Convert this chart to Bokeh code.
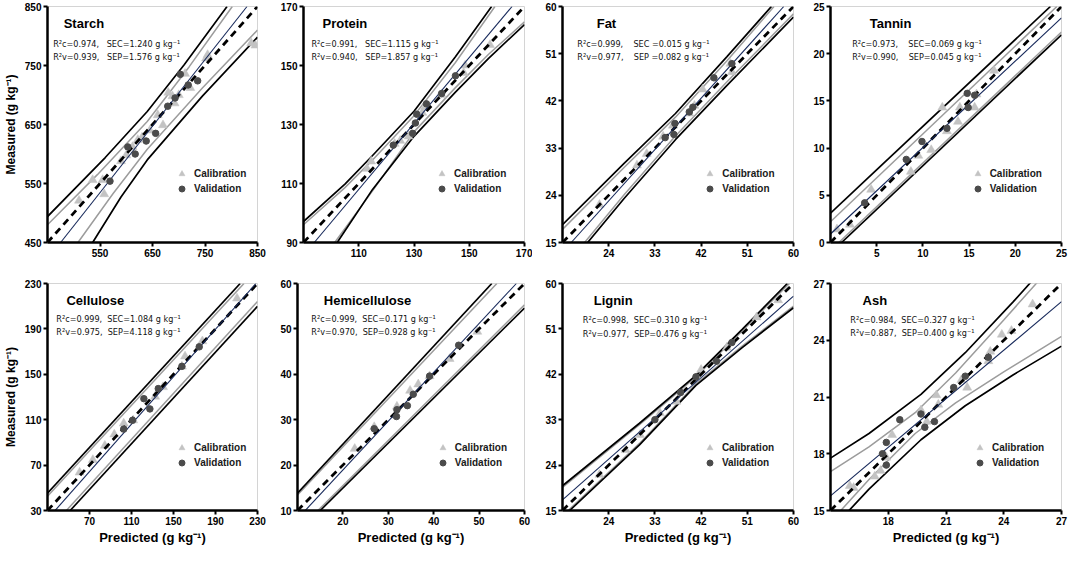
from bokeh.plotting import figure
from bokeh.models import Range1d, FixedTicker, Label, Legend, LegendItem
from bokeh.layouts import column, row
from bokeh.embed import file_html
from bokeh.resources import INLINE

# ---------------- data ----------------
STARCH_RANGE = (450, 850)
STARCH_YTICKS = [450, 550, 650, 750, 850]
STARCH_XTICKS = [550, 650, 750, 850]
STARCH_CAL = [(510, 521), (536, 556), (555, 556), (558, 532), (590, 588), (600, 598), (612, 612),
              (622, 624), (630, 628), (645, 640), (660, 666), (670, 649), (680, 704), (688, 698),
              (692, 686), (700, 700), (712, 736), (722, 712), (752, 762), (755, 768), (838, 788),
              (846, 784)]
STARCH_VAL = [(569, 554), (603, 612), (617, 600), (638, 622), (656, 635), (679, 681), (693, 695),
              (703, 735), (718, 717), (736, 724)]
STARCH_FIT = [(475, 450), (830, 850)]
STARCH_CONF_HI = [(450, 480), (545, 565), (640, 655), (720, 748), (802, 850)]
STARCH_CONF_LO = [(508, 450), (575, 533), (640, 608), (745, 712), (850, 810)]
STARCH_PRED_HI = [(450, 494), (560, 594), (640, 672), (710, 751), (792, 850)]
STARCH_PRED_LO = [(536, 450), (590, 527), (640, 590), (745, 698), (850, 798)]
STARCH_STATS = ["R²c=0.974,\u00a0\u00a0 SEC=1.240 g kg⁻¹", "R²v=0.939,\u00a0\u00a0 SEP=1.576 g kg⁻¹"]

PROTEIN_RANGE = (90, 170)
PROTEIN_YTICKS = [90, 110, 130, 150, 170]
PROTEIN_XTICKS = [110, 130, 150, 170]
PROTEIN_CAL = [(113, 115), (114.5, 117.5), (123, 123.5), (125, 124.5), (128, 126), (133, 134),
               (134, 136), (140, 140), (148, 147.5), (148.5, 150), (157.5, 157)]
PROTEIN_VAL = [(122.5, 123), (129.5, 127), (130.5, 130.5), (131, 133.5), (134.5, 137), (140, 140.5),
               (145, 146.5)]
PROTEIN_FIT = [(93.9, 90), (165.5, 170)]
PROTEIN_CONF_HI = [(90, 96), (105, 108.6), (115, 118), (130, 133), (145, 151), (159.3, 170)]
PROTEIN_CONF_LO = [(101.3, 90), (115, 107.5), (130, 127.5), (145, 142.5), (157, 153.8), (170, 164.8)]
PROTEIN_PRED_HI = [(90, 97.1), (105, 109.8), (115, 119.5), (130, 134.5), (145, 153), (158.1, 170)]
PROTEIN_PRED_LO = [(102.2, 90), (115, 108), (130, 126), (145, 141), (157, 152.4), (170, 163.9)]
PROTEIN_STATS = ["R²c=0.991,\u00a0\u00a0 SEC=1.115 g kg⁻¹", "R²v=0.940,\u00a0\u00a0 SEP=1.857 g kg⁻¹"]

FAT_RANGE = (15, 60)
FAT_YTICKS = [15, 24, 33, 42, 51, 60]
FAT_XTICKS = [24, 33, 42, 51, 60]
FAT_CAL = [(22.2, 22.2), (29.5, 29.7), (31.4, 31.9), (34.6, 35.2), (36.5, 37.3), (39.7, 39.6),
           (40.7, 41.1), (42.3, 44.2), (47.7, 49.1), (48, 47.5)]
FAT_VAL = [(35, 35), (36.7, 35.6), (36.9, 37.7), (39.7, 39.9), (40.4, 40.8), (44.5, 46.4), (48, 49.1)]
FAT_FIT = [(16.7, 15), (58.1, 60)]
FAT_CONF_HI = [(15, 17.5), (27, 29.3), (37, 38.9), (47, 49.6), (56.2, 60)]
FAT_CONF_LO = [(19.3, 15), (27, 24.1), (37, 35.3), (47, 45.6), (60, 58.6)]
FAT_PRED_HI = [(15, 18.4), (27, 30.1), (37, 39.6), (47, 50.4), (55.7, 60)]
FAT_PRED_LO = [(19.9, 15), (27, 23.4), (37, 34.6), (47, 44.9), (60, 58)]
FAT_STATS = ["R²c=0.999,\u00a0\u00a0\u00a0 SEC =0.015 g kg⁻¹", "R²v=0.977,\u00a0\u00a0\u00a0 SEP =0.082 g kg⁻¹"]

TANNIN_RANGE = (0, 25)
TANNIN_YTICKS = [0, 5, 10, 15, 20, 25]
TANNIN_XTICKS = [5, 10, 15, 20, 25]
TANNIN_CAL = [(0.7, 1.4), (2.1, 1.9), (4.4, 5.6), (8.7, 7.5), (9.5, 9.2), (10.9, 9.8), (12.1, 14.3),
              (12.6, 11.8), (13.8, 12.8), (14, 14.3), (15.6, 14.3), (15.8, 15.7), (17.7, 18.2)]
TANNIN_VAL = [(3.7, 4.2), (8.2, 8.8), (9.9, 10.7), (12.6, 12.1), (14.8, 15.8), (14.9, 14.3), (15.6, 15.6)]
TANNIN_FIT = [(0, 0.9), (25, 23.8)]
TANNIN_CONF_HI = [(0, 2.2), (24.5, 25)]
TANNIN_CONF_LO = [(0.9, 0), (25, 22.3)]
TANNIN_PRED_HI = [(0, 3.1), (23.8, 25)]
TANNIN_PRED_LO = [(1.2, 0), (25, 22)]
TANNIN_STATS = ["R²c=0.973,\u00a0\u00a0\u00a0 SEC=0.069 g kg⁻¹", "R²v=0.990,\u00a0\u00a0\u00a0 SEP=0.045 g kg⁻¹"]

CELLULOSE_RANGE = (30, 230)
CELLULOSE_YTICKS = [30, 70, 110, 150, 190, 230]
CELLULOSE_XTICKS = [70, 110, 150, 190, 230]
CELLULOSE_CAL = [(60.6, 63.5), (73.2, 74.6), (84.6, 87.2), (93.6, 97), (102.6, 106.7), (111.6, 109.5),
                 (132.5, 130.4), (140, 138.8), (158, 156.9), (161, 165.8), (177.5, 179.2), (210.5, 216.9)]
CELLULOSE_VAL = [(102.6, 101.7), (111, 109.5), (121.8, 128.5), (127.5, 119.5), (135.5, 137.4),
                 (158, 157), (174.5, 174.2)]
CELLULOSE_FIT = [(37.2, 30), (228.5, 230)]
CELLULOSE_CONF_HI = [(30, 42.6), (217.1, 230)]
CELLULOSE_CONF_LO = [(48, 30), (230, 214.1)]
CELLULOSE_PRED_HI = [(30, 45.3), (213.5, 230)]
CELLULOSE_PRED_LO = [(51.6, 30), (230, 209.9)]
CELLULOSE_STATS = ["R²c=0.999,\u00a0\u00a0SEC=1.084 g kg⁻¹", "R²v=0.975,\u00a0\u00a0SEP=4.118 g kg⁻¹"]

HEMI_RANGE = (10, 60)
HEMI_YTICKS = [10, 20, 30, 40, 50, 60]
HEMI_XTICKS = [20, 30, 40, 50, 60]
HEMI_CAL = [(22.6, 23.6), (26.9, 28.4), (31.9, 32.9), (34.8, 36.4), (36.6, 37.8), (39.1, 39.6),
            (43.5, 43.4), (49.6, 49.4)]
HEMI_VAL = [(26.9, 28), (31.8, 30.7), (31.9, 32.2), (34.2, 33.1), (35.5, 35.6), (39.1, 39.6), (45.5, 46.4)]
HEMI_FIT = [(11.7, 10), (58.2, 60)]
HEMI_CONF_HI = [(10, 13.4), (53.9, 60)]
HEMI_CONF_LO = [(14.5, 10), (60, 55.3)]
HEMI_PRED_HI = [(10, 13.8), (52.8, 60)]
HEMI_PRED_LO = [(15, 10), (60, 54.6)]
HEMI_STATS = ["R²c=0.999,\u00a0\u00a0SEC=0.171 g kg⁻¹", "R²v=0.970,\u00a0\u00a0SEP=0.928 g kg⁻¹"]

LIGNIN_RANGE = (15, 60)
LIGNIN_YTICKS = [15, 24, 33, 42, 51, 60]
LIGNIN_XTICKS = [24, 33, 42, 51, 60]
LIGNIN_CAL = [(22.2, 22.1), (27.3, 27), (30.1, 30), (34, 34.3), (37.2, 36.6), (42, 42.9), (47, 47.3),
              (52.8, 53.3), (57, 56.7)]
LIGNIN_VAL = [(33, 33), (38, 38.4), (41, 41.5), (45, 44.6), (48, 48.3)]
LIGNIN_FIT = [(15, 17.1), (60, 57.5)]
LIGNIN_CONF_HI = [(15, 19.6), (30, 32.0), (41, 41.5), (50, 50.6), (59.2, 60)]
LIGNIN_CONF_LO = [(16.1, 15), (30, 28.3), (41, 40.1), (50, 47.6), (60, 55.5)]
LIGNIN_PRED_HI = [(15, 19.9), (30, 32.3), (41, 41.8), (50, 50.9), (58.8, 60)]
LIGNIN_PRED_LO = [(16.4, 15), (30, 28.0), (41, 39.8), (50, 47.3), (60, 55.2)]
LIGNIN_STATS = ["R²c=0.998,\u00a0\u00a0SEC=0.310 g kg⁻¹", "R²v=0.977,\u00a0\u00a0SEP=0.476 g kg⁻¹"]

ASH_RANGE = (15, 27)
ASH_YTICKS = [15, 18, 21, 24, 27]
ASH_XTICKS = [18, 21, 24, 27]
ASH_CAL = [(16, 16.3), (16.2, 16.2), (17.3, 16.8), (17.6, 17.1), (17.9, 17.8), (18.2, 19), (19.7, 20.3),
           (20, 19.7), (20.6, 20.6), (20.5, 21.1), (21.8, 21.9), (22.1, 21.5), (23.2, 22.9), (23.3, 23.4),
           (23.9, 24.3), (24.4, 24.5), (25.5, 25.9)]
ASH_VAL = [(17.7, 18), (17.9, 18.6), (17.9, 17.4), (18.6, 19.8), (19.7, 20.1), (19.9, 19.4), (20.4, 19.7),
           (21.4, 21.5), (22, 22.1), (23.2, 23.1)]
ASH_FIT = [(15, 15.77), (27, 26.04)]
ASH_CONF_HI = [(15, 17.06), (17, 18.36), (19.4, 20.17), (21.5, 22.27), (24, 25.07), (27, 28.5)]
ASH_CONF_LO = [(15, 14.4), (17, 16.64), (19.4, 19.07), (21.5, 20.69), (24, 22.33), (27, 24.2)]
ASH_PRED_HI = [(15, 17.77), (17, 19.07), (19.7, 21.14), (22, 23.34), (24.5, 26.04), (27, 28.87)]
ASH_PRED_LO = [(15, 13.95), (17, 16.13), (19.7, 18.74), (22, 20.54), (24.5, 22.18), (27, 23.69)]
ASH_STATS = ["R²c=0.984,\u00a0\u00a0SEC=0.327 g kg⁻¹", "R²v=0.887,\u00a0\u00a0SEP=0.400 g kg⁻¹"]

LEGEND_LABELS = ["Calibration", "Validation"]
Y_LABEL = "Measured (g kg⁻¹)"
X_LABEL = "Predicted (g kg⁻¹)"

# ---------------- styles / layout ----------------
FONT = "Liberation Sans"
NARROW = "'Liberation Sans Narrow', 'DejaVu Sans Condensed', 'Liberation Sans', sans-serif"
CAL_COLOR = "#c3c3c3"
VAL_COLOR = "#4b4b4b"
CONF_COLOR = "#9c9c9c"
FIT_COLOR = "#16285a"

PANELS = [
    ("Starch", STARCH_RANGE, STARCH_YTICKS, STARCH_XTICKS, STARCH_CAL, STARCH_VAL, STARCH_FIT,
     STARCH_CONF_HI, STARCH_CONF_LO, STARCH_PRED_HI, STARCH_PRED_LO, STARCH_STATS),
    ("Protein", PROTEIN_RANGE, PROTEIN_YTICKS, PROTEIN_XTICKS, PROTEIN_CAL, PROTEIN_VAL, PROTEIN_FIT,
     PROTEIN_CONF_HI, PROTEIN_CONF_LO, PROTEIN_PRED_HI, PROTEIN_PRED_LO, PROTEIN_STATS),
    ("Fat", FAT_RANGE, FAT_YTICKS, FAT_XTICKS, FAT_CAL, FAT_VAL, FAT_FIT,
     FAT_CONF_HI, FAT_CONF_LO, FAT_PRED_HI, FAT_PRED_LO, FAT_STATS),
    ("Tannin", TANNIN_RANGE, TANNIN_YTICKS, TANNIN_XTICKS, TANNIN_CAL, TANNIN_VAL, TANNIN_FIT,
     TANNIN_CONF_HI, TANNIN_CONF_LO, TANNIN_PRED_HI, TANNIN_PRED_LO, TANNIN_STATS),
    ("Cellulose", CELLULOSE_RANGE, CELLULOSE_YTICKS, CELLULOSE_XTICKS, CELLULOSE_CAL, CELLULOSE_VAL,
     CELLULOSE_FIT, CELLULOSE_CONF_HI, CELLULOSE_CONF_LO, CELLULOSE_PRED_HI, CELLULOSE_PRED_LO,
     CELLULOSE_STATS),
    ("Hemicellulose", HEMI_RANGE, HEMI_YTICKS, HEMI_XTICKS, HEMI_CAL, HEMI_VAL, HEMI_FIT,
     HEMI_CONF_HI, HEMI_CONF_LO, HEMI_PRED_HI, HEMI_PRED_LO, HEMI_STATS),
    ("Lignin", LIGNIN_RANGE, LIGNIN_YTICKS, LIGNIN_XTICKS, LIGNIN_CAL, LIGNIN_VAL, LIGNIN_FIT,
     LIGNIN_CONF_HI, LIGNIN_CONF_LO, LIGNIN_PRED_HI, LIGNIN_PRED_LO, LIGNIN_STATS),
    ("Ash", ASH_RANGE, ASH_YTICKS, ASH_XTICKS, ASH_CAL, ASH_VAL, ASH_FIT,
     ASH_CONF_HI, ASH_CONF_LO, ASH_PRED_HI, ASH_PRED_LO, ASH_STATS),
]

# (border_left, frame_w, border_right, border_top, frame_h, border_bottom)
GEOM = [
    (40, 217, 14, 6, 236, 22), (32, 221, 8, 6, 236, 22), (30, 231, 7, 6, 236, 22), (30, 231, 7, 6, 236, 22),
    (40, 217, 14, 19, 230, 34), (26, 227, 8, 19, 230, 34), (30, 231, 7, 19, 230, 34), (30, 231, 7, 19, 230, 34),
]
# (title_fx, title_fy, stats_fx, stats_fy1, stats_fy2, legend_fx, legend_fy_lower)
TEXT_POS = [
    (0.077, 0.074, 0.027, 0.159, 0.213, 0.62, 0.225),
    (0.086, 0.074, 0.036, 0.159, 0.213, 0.627, 0.225),
    (0.148, 0.074, 0.064, 0.159, 0.213, 0.64, 0.225),
    (0.17, 0.074, 0.094, 0.159, 0.213, 0.637, 0.225),
    (0.09, 0.077, 0.042, 0.158, 0.213, 0.62, 0.208),
    (0.116, 0.077, 0.061, 0.158, 0.213, 0.64, 0.208),
    (0.135, 0.077, 0.088, 0.162, 0.222, 0.638, 0.208),
    (0.139, 0.077, 0.086, 0.162, 0.218, 0.647, 0.208),
]
LEG_GLYPH = 15


def xs(seq):
    return [a for a, _ in seq]


def ys(seq):
    return [b for _, b in seq]


def make_panel(idx):
    (name, rng, yticks, xticks, cal, val, fit, conf_hi, conf_lo,
     pred_hi, pred_lo, stats) = PANELS[idx]
    bl, fw, br, bt, fh, bb = GEOM[idx]
    tfx, tfy, sfx, sfy1, sfy2, lfx, lfy = TEXT_POS[idx]
    lo, hi = rng
    span = hi - lo
    p = figure(width=bl + fw + br, height=bt + fh + bb,
               x_range=Range1d(lo, hi), y_range=Range1d(lo, hi),
               output_backend="svg", toolbar_location=None,
               min_border_left=bl, min_border_right=br,
               min_border_top=bt, min_border_bottom=bb)
    p.xgrid.visible = False
    p.ygrid.visible = False
    p.outline_line_color = "#d4d4d4"
    p.outline_line_width = 1
    p.background_fill_color = "white"
    p.border_fill_color = "white"

    p.xaxis.ticker = FixedTicker(ticks=xticks)
    p.yaxis.ticker = FixedTicker(ticks=yticks)
    for ax in (p.xaxis[0], p.yaxis[0]):
        ax.axis_line_width = 2.5
        ax.axis_line_color = "black"
        ax.major_tick_line_width = 2
        ax.major_tick_line_color = "black"
        ax.major_tick_out = 4
        ax.major_tick_in = 0
        ax.minor_tick_line_color = None
        ax.major_label_text_font = FONT
        ax.major_label_text_font_style = "bold"
        ax.major_label_text_font_size = "10px"
        ax.major_label_text_color = "black"
        ax.major_label_standoff = 2
        ax.axis_label_text_font = FONT
        ax.axis_label_text_font_style = "bold"
        ax.axis_label_text_color = "black"
    if idx % 4 == 0:
        p.yaxis.axis_label = Y_LABEL
        p.yaxis.axis_label_text_font_size = "12px"
        p.yaxis.axis_label_standoff = 4
    if idx >= 4:
        p.xaxis.axis_label = X_LABEL
        p.xaxis.axis_label_text_font_size = "13px"
        p.xaxis.axis_label_standoff = 2

    for band in (conf_hi, conf_lo):
        p.line(xs(band), ys(band), line_color=CONF_COLOR, line_width=1.5)
    for band in (pred_hi, pred_lo):
        p.line(xs(band), ys(band), line_color="black", line_width=1.7)
    r_cal = p.scatter(xs(cal), ys(cal), marker="triangle", size=9,
                      fill_color=CAL_COLOR, line_color=CAL_COLOR, line_width=0.5)
    p.line([lo, hi], [lo, hi], line_color="black", line_width=2.8, line_dash="7 5")
    p.line(xs(fit), ys(fit), line_color=FIT_COLOR, line_width=1.1)
    r_val = p.scatter(xs(val), ys(val), marker="circle", size=6.5,
                      fill_color=VAL_COLOR, line_color=VAL_COLOR)

    p.add_layout(Label(x=lo + tfx * span, y=hi - tfy * span, text=name,
                       text_font=FONT, text_font_style="bold", text_font_size="13px",
                       text_baseline="middle", text_align="left", text_color="black"))
    for s, fy in zip(stats, (sfy1, sfy2)):
        p.add_layout(Label(x=lo + sfx * span, y=hi - fy * span, text=s,
                           text_font=NARROW, text_font_size="9px",
                           text_baseline="middle", text_align="left", text_color="#111111"))

    g = LEG_GLYPH
    leg = Legend(items=[LegendItem(label=LEGEND_LABELS[0], renderers=[r_cal]),
                        LegendItem(label=LEGEND_LABELS[1], renderers=[r_val])],
                 location=(lfx * fw - g / 2, lfy * fh - g / 2),
                 glyph_width=g, glyph_height=g, label_height=g,
                 label_standoff=5, spacing=0, padding=0, margin=0,
                 label_text_font=FONT, label_text_font_style="bold",
                 label_text_font_size="10px", label_text_color="#1a1a1a",
                 border_line_color=None, background_fill_alpha=0)
    p.add_layout(leg)
    return p


figs = [make_panel(i) for i in range(8)]
layout = column(row(*figs[:4]), row(*figs[4:]))
open("out.html", "w").write(file_html(layout, INLINE))
